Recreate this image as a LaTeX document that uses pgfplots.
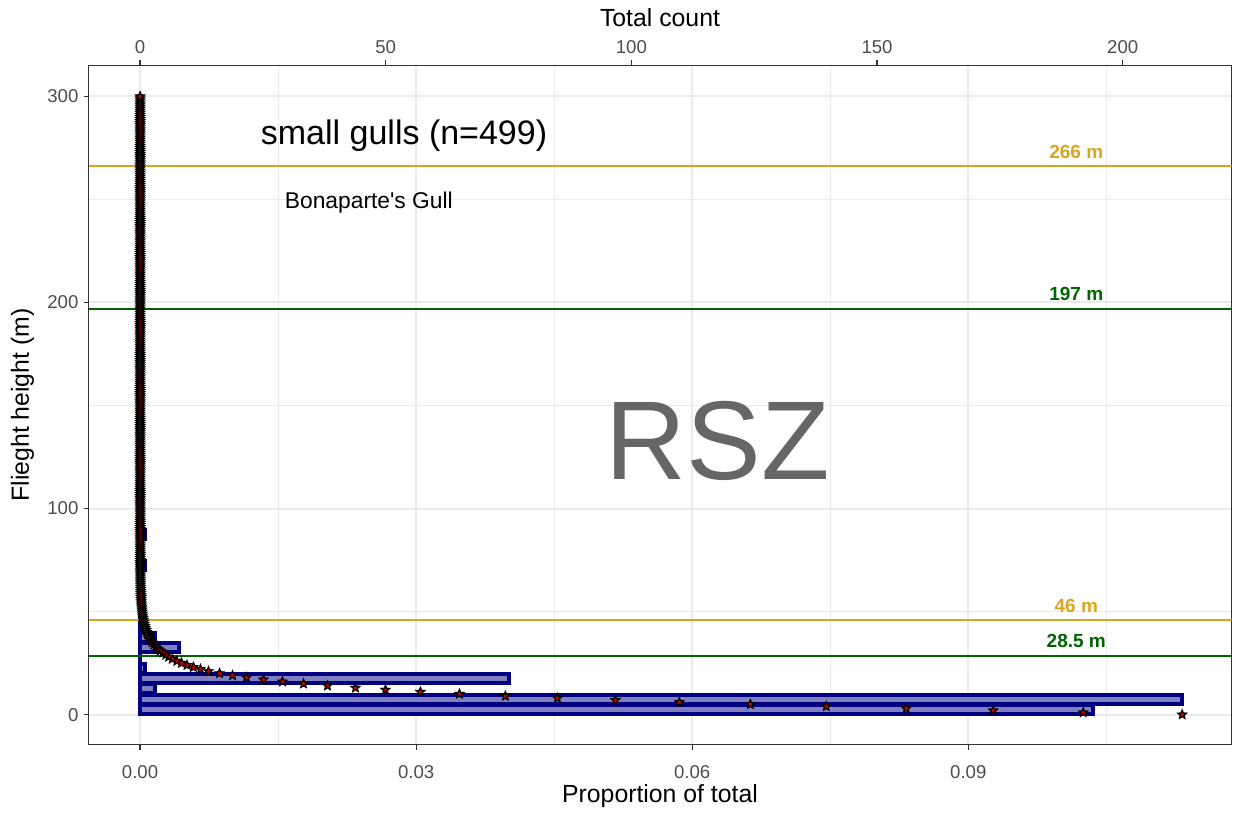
\documentclass[border=0pt]{standalone}
\usepackage{pgfplots}
\pgfplotsset{compat=1.18}
\usepackage{fontspec}
\setmainfont{Liberation Sans}
\newfontfamily\plainfont{Liberation Sans}
\definecolor{gray20}{HTML}{333333}
\definecolor{gray30}{HTML}{4D4D4D}
\definecolor{gray92}{HTML}{EBEBEB}
\definecolor{gray40}{HTML}{666666}
\definecolor{navyc}{HTML}{000080}
\definecolor{navyfill}{HTML}{7F7FC0}
\definecolor{gold}{HTML}{DAA520}
\definecolor{dgreen}{HTML}{006400}
\definecolor{starred}{HTML}{C00000}
\pgfdeclareplotmark{fstar}{%
 \pgfpathmoveto{\pgfpointpolar{90}{\pgfplotmarksize}}%
 \pgfpathlineto{\pgfpointpolar{126}{0.45\pgfplotmarksize}}%
 \pgfpathlineto{\pgfpointpolar{162}{\pgfplotmarksize}}%
 \pgfpathlineto{\pgfpointpolar{198}{0.45\pgfplotmarksize}}%
 \pgfpathlineto{\pgfpointpolar{234}{\pgfplotmarksize}}%
 \pgfpathlineto{\pgfpointpolar{270}{0.45\pgfplotmarksize}}%
 \pgfpathlineto{\pgfpointpolar{306}{\pgfplotmarksize}}%
 \pgfpathlineto{\pgfpointpolar{342}{0.45\pgfplotmarksize}}%
 \pgfpathlineto{\pgfpointpolar{18}{\pgfplotmarksize}}%
 \pgfpathlineto{\pgfpointpolar{54}{0.45\pgfplotmarksize}}%
 \pgfpathclose
 \pgfusepathqfillstroke
}
\begin{document}
\begin{tikzpicture}
\begin{axis}[
  scale only axis, width=571.5pt, height=339.5pt,
  at={(0,0)}, anchor=south west,
  xmin=-0.0056, xmax=0.1186, ymin=-14.5, ymax=315,
  xtick={0,0.03,0.06,0.09}, xticklabels={0.00,0.03,0.06,0.09},
  minor xtick={-0.015,0.015,0.045,0.075,0.105},
  ytick={0,100,200,300}, yticklabels={0,100,200,300},
  minor ytick={50,150,250},
  grid=both,
  major grid style={draw=gray92, line width=1pt},
  minor grid style={draw=gray92, line width=0.5pt},
  minor tick length=0pt,
  major tick length=2.5pt,
  tick align=outside,
  xtick pos=bottom, ytick pos=left,
  axis line style={draw=gray20, line width=0.8pt},
  major tick style={draw=gray20, line width=0.6pt},
  tick label style={font=\fontsize{9.3}{11}\selectfont, text=gray30},
  xticklabel style={yshift=-4.5pt},
  yticklabel style={xshift=1pt},
  xlabel={Proportion of total},
  ylabel={Flieght height (m)},
  label style={font=\fontsize{12.4}{14}\selectfont, text=black},
  xlabel style={at={(axis description cs:0.5,0)}, anchor=center, yshift=-25.75pt},
  ylabel style={at={(axis description cs:-0.05774,0.5)}, anchor=center},
  clip=true,
]
% histogram bars (5 m bins), proportion scale = count/1873
\addplot[xbar, bar width=4.4, draw=navyc, fill=navyfill, line width=2pt] coordinates {
 (0.10358,2.5) (0.11319,7.5) (0.0016,12.5) (0.04004,17.5) (0.000534,22.5)
 (0,27.5) (0.00427,32.5) (0.0016,37.5) (0.000534,42.5) (0,47.5)
 (0,52.5) (0,57.5) (0,62.5) (0,67.5) (0.000534,72.5) (0,77.5) (0,82.5) (0.000534,87.5)
};
% fitted proportions (stars)
\addplot[only marks, mark=fstar, mark size=2.3pt, mark options={fill=starred, draw=black, line width=0.6pt}] coordinates {
 (0.11324,0) (0.10249,1) (0.09271,2) (0.08326,3) (0.07457,4) (0.06632,5) (0.05860,6) (0.05165,7) (0.04535,8) (0.03970,9)
 (0.03471,10) (0.03047,11) (0.02667,12) (0.02341,13) (0.02037,14) (0.01776,15) (0.01548,16) (0.01341,17) (0.01157,18) (0.01005,19)
 (0.00864,20) (0.00744,21) (0.00657,22) (0.0058,23) (0.0051,24) (0.0045,25) (0.0040,26) (0.0035,27) (0.0031,28) (0.0028,29)
 (0.0025,30) (0.0022,31) (0.0019,32) (0.0017,33) (0.0015,34) (0.0013,35) (0.0012,36) (0.00105,37) (0.00093,38) (0.00082,39)
 (0.00073,40) (0.00065,41) (0.00058,42) (0.00052,43) (0.00046,44) (0.00041,45) (0.00037,46) (0.00033,47) (0.00029,48) (0.00026,49)
 (0.00023,50) (0.00021,51) (0.00019,52) (0.00017,53) (0.00015,54) (0.00014,55) (0.00012,56) (0.00011,57) (0.0001,58) (0.00009,59)
 (0.00008,60) (0.00007,61) (0.00006,62) (0.00006,63) (0.00005,64) (0.00005,65) (0.00004,66) (0.00004,67) (0.00004,68) (0.00003,69)
 (0.00003,70) (0.00003,71) (0.00003,72) (0.00003,73) (0.00003,74) (0.00003,75) (0.00003,76) (0.00003,77) (0.00003,78) (0.00003,79)
 (0.00003,80) (0.00002,81) (0.00002,82) (0.00002,83) (0.00002,84) (0.00002,85) (0.00002,86) (0.00002,87) (0.00002,88) (0.00002,89)
 (0.00002,90) (0.00002,91) (0.00002,92) (0.00002,93) (0.00002,94) (0.00002,95) (0.00002,96) (0.00002,97) (0.00002,98) (0.00002,99)
 (0.00002,100) (0.00001,101) (0.00001,102) (0.00001,103) (0.00001,104) (0.00001,105) (0.00001,106) (0.00001,107) (0.00001,108) (0.00001,109)
 (0.00001,110) (0.00001,111) (0.00001,112) (0.00001,113) (0.00001,114) (0.00001,115) (0.00001,116) (0.00001,117) (0.00001,118) (0.00001,119)
 (0.00001,120) (0.00001,121) (0.00001,122) (0.00001,123) (0.00001,124) (0.00001,125) (0.00001,126) (0.00001,127) (0.00001,128) (0.00001,129)
 (0.00001,130) (0.00001,131) (0.00001,132) (0.00001,133) (0.00001,134) (0.00001,135) (0.00001,136) (0.00001,137) (0.00001,138) (0.00001,139)
 (0.00001,140) (0.00001,141) (0.00001,142) (0.00001,143) (0.00001,144) (0.00001,145) (0.00001,146) (0.00001,147) (0.00001,148) (0.00001,149)
 (0.00001,150) (0.00001,151) (0.00001,152) (0.00001,153) (0.00001,154) (0.00001,155) (0.00001,156) (0.00001,157) (0.00001,158) (0.00001,159)
 (0.00001,160) (0.00001,161) (0.00001,162) (0.00001,163) (0.00001,164) (0.00001,165) (0.00001,166) (0.00001,167) (0.00001,168) (0.00001,169)
 (0.00001,170) (0.00001,171) (0.00001,172) (0.00001,173) (0.00001,174) (0.00001,175) (0.00001,176) (0.00001,177) (0.00001,178) (0.00001,179)
 (0.00001,180) (0.00001,181) (0.00001,182) (0.00001,183) (0.00001,184) (0.00001,185) (0.00001,186) (0.00001,187) (0.00001,188) (0.00001,189)
 (0.00001,190) (0.00001,191) (0.00001,192) (0.00001,193) (0.00001,194) (0.00001,195) (0.00001,196) (0.00001,197) (0.00001,198) (0.00001,199)
 (0.00001,200) (0.00001,201) (0.00001,202) (0.00001,203) (0.00001,204) (0.00001,205) (0.00001,206) (0.00001,207) (0.00001,208) (0.00001,209)
 (0.00001,210) (0.00001,211) (0.00001,212) (0.00001,213) (0.00001,214) (0.00001,215) (0.00001,216) (0.00001,217) (0.00001,218) (0.00001,219)
 (0.00001,220) (0.00001,221) (0.00001,222) (0.00001,223) (0.00001,224) (0.00001,225) (0.00001,226) (0.00001,227) (0.00001,228) (0.00001,229)
 (0.00001,230) (0.00001,231) (0.00001,232) (0.00001,233) (0.00001,234) (0.00001,235) (0.00001,236) (0.00001,237) (0.00001,238) (0.00001,239)
 (0.00001,240) (0.00001,241) (0.00001,242) (0.00001,243) (0.00001,244) (0.00001,245) (0.00001,246) (0.00001,247) (0.00001,248) (0.00001,249)
 (0.00001,250) (0.00001,251) (0.00001,252) (0.00001,253) (0.00001,254) (0.00001,255) (0.00001,256) (0.00001,257) (0.00001,258) (0.00001,259)
 (0.00001,260) (0.00001,261) (0.00001,262) (0.00001,263) (0.00001,264) (0.00001,265) (0.00001,266) (0.00001,267) (0.00001,268) (0.00001,269)
 (0.00001,270) (0.00001,271) (0.00001,272) (0.00001,273) (0.00001,274) (0.00001,275) (0.00001,276) (0.00001,277) (0.00001,278) (0.00001,279)
 (0.00001,280) (0.00001,281) (0.00001,282) (0.00001,283) (0.00001,284) (0.00001,285) (0.00001,286) (0.00001,287) (0.00001,288) (0.00001,289)
 (0.00001,290) (0.00001,291) (0.00001,292) (0.00001,293) (0.00001,294) (0.00001,295) (0.00001,296) (0.00001,297) (0.00001,298) (0.00001,299)
 (0.00001,300)
};
% reference heights
\addplot[gold, line width=1pt] coordinates {(-0.0056,266) (0.1186,266)};
\addplot[dgreen, line width=1pt] coordinates {(-0.0056,197) (0.1186,197)};
\addplot[gold, line width=1pt] coordinates {(-0.0056,46) (0.1186,46)};
\addplot[dgreen, line width=1pt] coordinates {(-0.0056,28.5) (0.1186,28.5)};
\node[anchor=base, text=gold, font=\bfseries\fontsize{9.5}{11}\selectfont, yshift=3.9pt] at (axis cs:0.10173,266) {266 m};
\node[anchor=base, text=dgreen, font=\bfseries\fontsize{9.5}{11}\selectfont, yshift=4.1pt] at (axis cs:0.10173,197) {197 m};
\node[anchor=base, text=gold, font=\bfseries\fontsize{9.5}{11}\selectfont, yshift=3.9pt] at (axis cs:0.10173,46) {46 m};
\node[anchor=base, text=dgreen, font=\bfseries\fontsize{9.5}{11}\selectfont, yshift=4.1pt] at (axis cs:0.10173,28.5) {28.5 m};
\node[anchor=base west, inner sep=0pt, font=\fontsize{17}{20}\selectfont] at (axis cs:0.01309,276.7) {small gulls (n=499)};
\node[anchor=base west, inner sep=0pt, font=\plainfont\fontsize{11.4}{13}\selectfont] at (axis cs:0.0157,245.6) {Bonaparte's Gull};
\node[anchor=base west, inner sep=0pt, text=gray40, font=\fontsize{56}{60}\selectfont] at (axis cs:0.05057,114.1) {RSZ};
\end{axis}
\begin{axis}[
  scale only axis, width=571.5pt, height=339.5pt,
  at={(0,0)}, anchor=south west,
  xmin=-10.489, xmax=222.14, ymin=-14.5, ymax=315,
  axis x line*=top, axis y line=none,
  xtick={0,50,100,150,200}, xticklabels={0,50,100,150,200},
  major tick length=2.5pt, tick align=outside,
  axis line style={draw=gray20, line width=0.8pt},
  major tick style={draw=gray20, line width=0.6pt},
  tick label style={font=\fontsize{9.3}{11}\selectfont, text=gray30},
  xlabel={Total count},
  xlabel style={font=\fontsize{12.4}{14}\selectfont, at={(axis description cs:0.5,1)}, anchor=center, yshift=23.75pt},
]
\addplot[draw=none] coordinates {(0,0)};
\end{axis}
\pgfresetboundingbox
\path (-44.25pt,-34.75pt) rectangle (573.75pt,372.25pt);
\end{tikzpicture}
\end{document}
